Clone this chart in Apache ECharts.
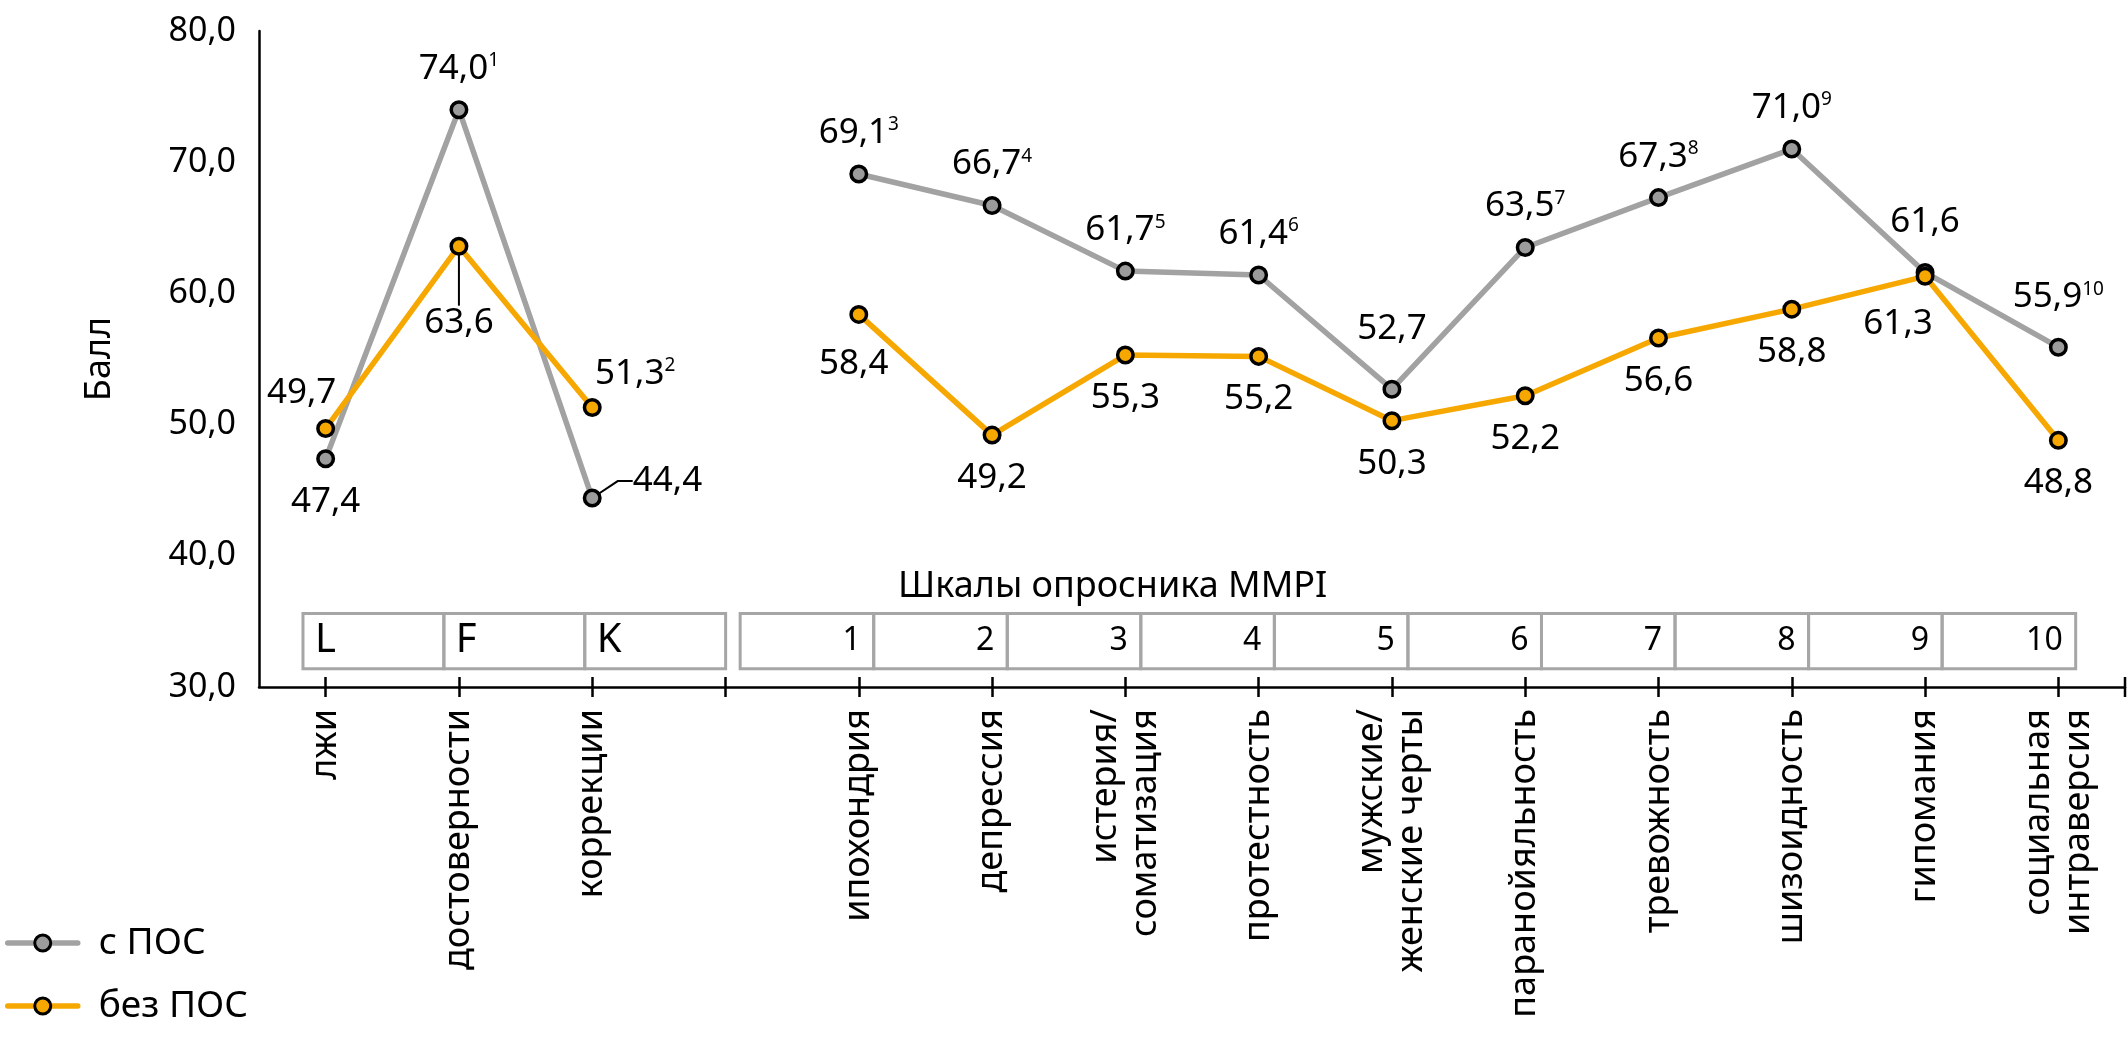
<!DOCTYPE html>
<html><head><meta charset="utf-8">
<script src="https://cdn.jsdelivr.net/npm/echarts@6/dist/echarts.min.js"></script>
<style>html,body{margin:0;padding:0;background:#fff}#c{width:2128px;height:1047px}</style>
</head><body><div id="c"></div>
<script>
const categories = ['лжи','достоверности','коррекции','','ипохондрия','депрессия','истерия/\nсоматизация','протестность','мужские/\nженские черты','паранойяльность','тревожность','шизоидность','гипомания','социальная\nинтраверсия'];
const withPOS    = [47.4, 74.0, 44.4, null, 69.1, 66.7, 61.7, 61.4, 52.7, 63.5, 67.3, 71.0, 61.6, 55.9];
const withoutPOS = [49.7, 63.6, 51.3, null, 58.4, 49.2, 55.3, 55.2, 50.3, 52.2, 56.6, 58.8, 61.3, 48.8];
const supWith    = ['', '1', '', '', '3', '4', '5', '6', '', '7', '8', '9', '', '10'];
const supWithout = ['', '', '2', '', '', '', '', '', '', '', '', '', '', ''];
const validityScales = ['L', 'F', 'K'];
const clinicalScales = ['1','2','3','4','5','6','7','8','9','10'];
const seriesNames = ['с ПОС', 'без ПОС'];
const yMin = 30, yMax = 80, yStep = 10;
const axisTitle = 'Шкалы опросника MMPI';
const yName = 'Балл';

const FONT = "'Noto Sans', 'Open Sans', sans-serif";
const GREY = '#a2a2a2', GREY_FILL = '#9b9b9b', ORANGE = '#f6a800';

// per-point label placement (style, not data)
const greyLabelStyle = {
  0: { position: 'bottom', distance: 16 },
  2: { position: 'right', distance: 17, offset: [0, -17], padding: [0, 0, 0, 14] },
  8: { offset: [0, -19] },
  12: { offset: [0, -9] },
  13: { offset: [0, -9] }
};
const orangeLabelStyle = {
  0: { position: 'top', distance: 14, offset: [-24, 5] },
  1: { position: 'bottom', distance: 38, padding: [12, 0, 0, 0] },
  2: { position: 'top', distance: 14, offset: [43, 7] },
  4: { offset: [-5, 7] },
  12: { offset: [-27, 5] }
};
const greyLines = { 2: { show: true, length2: 15 } };
const orangeLines = { 1: { show: true, length2: 0 } };

function buildData(values, sups, styles, lines) {
  return values.map((v, i) => {
    const item = { value: v, sup: sups[i] };
    if (styles[i]) item.label = styles[i];
    if (lines[i]) item.labelLine = Object.assign({ lineStyle: { color: '#000', width: 2 } }, lines[i]);
    return item;
  });
}
function fmt(p) {
  const t = p.value.toFixed(1).replace('.', ',');
  const s = p.data.sup;
  return s ? '{m|' + t + '}{s|' + s + '}' : '{m|' + t + '}';
}
const rich = {
  m: { fontSize: 35, fontFamily: FONT, color: '#000', lineHeight: 35 },
  s: { fontSize: 19, fontFamily: FONT, color: '#000', verticalAlign: 'top', lineHeight: 19 }
};

const chart = echarts.init(document.getElementById('c'), null, { renderer: 'canvas' });
const option = {
  animation: false,
  backgroundColor: '#fff',
  textStyle: { fontFamily: FONT },
  grid: { left: 259, right: 3, top: 31, bottom: 360, containLabel: false },
  legend: {
    orient: 'vertical', left: 0, top: 918,
    itemWidth: 70, itemHeight: 20, itemGap: 23,
    lineStyle: { width: 5.5, cap: 'round' },
    itemStyle: { borderWidth: 3, borderColor: '#000' },
    textStyle: { fontSize: 37, fontFamily: FONT, color: '#000', lineHeight: 40, padding: [0, 0, 0, 16] },
    data: seriesNames
  },
  xAxis: [{
    type: 'category', data: categories, boundaryGap: true,
    axisLine: { show: true, lineStyle: { color: '#000', width: 2.5 } },
    axisTick: { show: true, alignWithLabel: true, interval: 0, length: 10, lineStyle: { color: '#000', width: 2.5 } },
    axisLabel: { interval: 0, rotate: 90, margin: 22, fontSize: 36, fontFamily: FONT, color: '#000', lineHeight: 40 },
    splitLine: { show: false }
  }, {
    type: 'category', data: categories, boundaryGap: true, position: 'bottom',
    axisLine: { show: false },
    axisTick: { show: true, inside: true, alignWithLabel: true, interval: 0, length: 10, lineStyle: { color: '#000', width: 2.5 } },
    axisLabel: { show: false }, splitLine: { show: false }
  }],
  yAxis: {
    type: 'value', min: yMin, max: yMax, interval: yStep,
    name: yName, nameLocation: 'middle', nameRotate: 90, nameGap: 141,
    nameTextStyle: { fontSize: 36, fontFamily: FONT, color: '#000' },
    axisLine: { show: true, lineStyle: { color: '#000', width: 2.5 } },
    axisTick: { show: false },
    splitLine: { show: false },
    axisLabel: { fontSize: 34, fontFamily: FONT, color: '#000', margin: 23,
      formatter: v => v.toFixed(1).replace('.', ',') }
  },
  series: [{
    name: seriesNames[0], type: 'line', xAxisIndex: 0,
    data: buildData(withPOS, supWith, greyLabelStyle, greyLines),
    connectNulls: false,
    symbol: 'circle', symbolSize: 15.5,
    lineStyle: { color: GREY, width: 5.5 },
    itemStyle: { color: GREY_FILL, borderColor: '#000', borderWidth: 3.5 },
    label: { show: true, position: 'top', distance: 14, formatter: fmt, rich: rich },
    labelLine: { show: false },
    z: 2
  }, {
    name: seriesNames[1], type: 'line', xAxisIndex: 0,
    data: buildData(withoutPOS, supWithout, orangeLabelStyle, orangeLines),
    connectNulls: false,
    symbol: 'circle', symbolSize: 15.5,
    lineStyle: { color: ORANGE, width: 5.5 },
    itemStyle: { color: ORANGE, borderColor: '#000', borderWidth: 3.5 },
    label: { show: true, position: 'bottom', distance: 16, formatter: fmt, rich: rich },
    labelLine: { show: false },
    z: 3
  }]
};
chart.setOption(option);

// decorative scale boxes, positioned through the axes' own scales
const boxTop = 35.6, boxBottom = 31.4;
const leftStart = -0.17, leftW = 1.057;
const rightStart = 3.11, rightW = 1.002;
const titlePos = [5.905, 37.62];

const c0 = chart.convertToPixel({ xAxisIndex: 0 }, 0);
const c1 = chart.convertToPixel({ xAxisIndex: 0 }, 1);
const step = c1 - c0;
const fx = f => c0 + f * step;
const fy = v => chart.convertToPixel({ yAxisIndex: 0 }, v);
const yT = fy(boxTop), yB = fy(boxBottom), yM = (yT + yB) / 2;
const g = [];
const boxStyle = { fill: 'none', stroke: '#a6a6a6', lineWidth: 3 };
validityScales.forEach((t, i) => {
  const xl = fx(leftStart + i * leftW), xr = fx(leftStart + (i + 1) * leftW);
  g.push({ type: 'rect', shape: { x: xl, y: yT, width: xr - xl, height: yB - yT }, style: boxStyle, z: 1 });
  g.push({ type: 'text', x: xl + 12, y: yM, style: { text: t, font: '40px ' + FONT, fill: '#000', textAlign: 'left', textVerticalAlign: 'middle' }, z: 1 });
});
clinicalScales.forEach((t, i) => {
  const xl = fx(rightStart + i * rightW), xr = fx(rightStart + (i + 1) * rightW);
  g.push({ type: 'rect', shape: { x: xl, y: yT, width: xr - xl, height: yB - yT }, style: boxStyle, z: 1 });
  g.push({ type: 'text', x: xr - 13, y: yM, style: { text: t, font: '32px ' + FONT, fill: '#000', textAlign: 'right', textVerticalAlign: 'middle' }, z: 1 });
});
g.push({ type: 'text', x: fx(titlePos[0]), y: fy(titlePos[1]), style: { text: axisTitle, font: '36px ' + FONT, fill: '#000', textAlign: 'center', textVerticalAlign: 'middle' }, z: 1 });
const yAxisPix = fy(yMin);
const xEnd = fx(categories.length - 0.5);
g.push({ type: 'line', shape: { x1: xEnd, y1: yAxisPix - 10, x2: xEnd, y2: yAxisPix + 10 }, style: { stroke: '#000', lineWidth: 2.5 }, z: 1 });
chart.setOption({ graphic: g });
</script>
</body></html>
